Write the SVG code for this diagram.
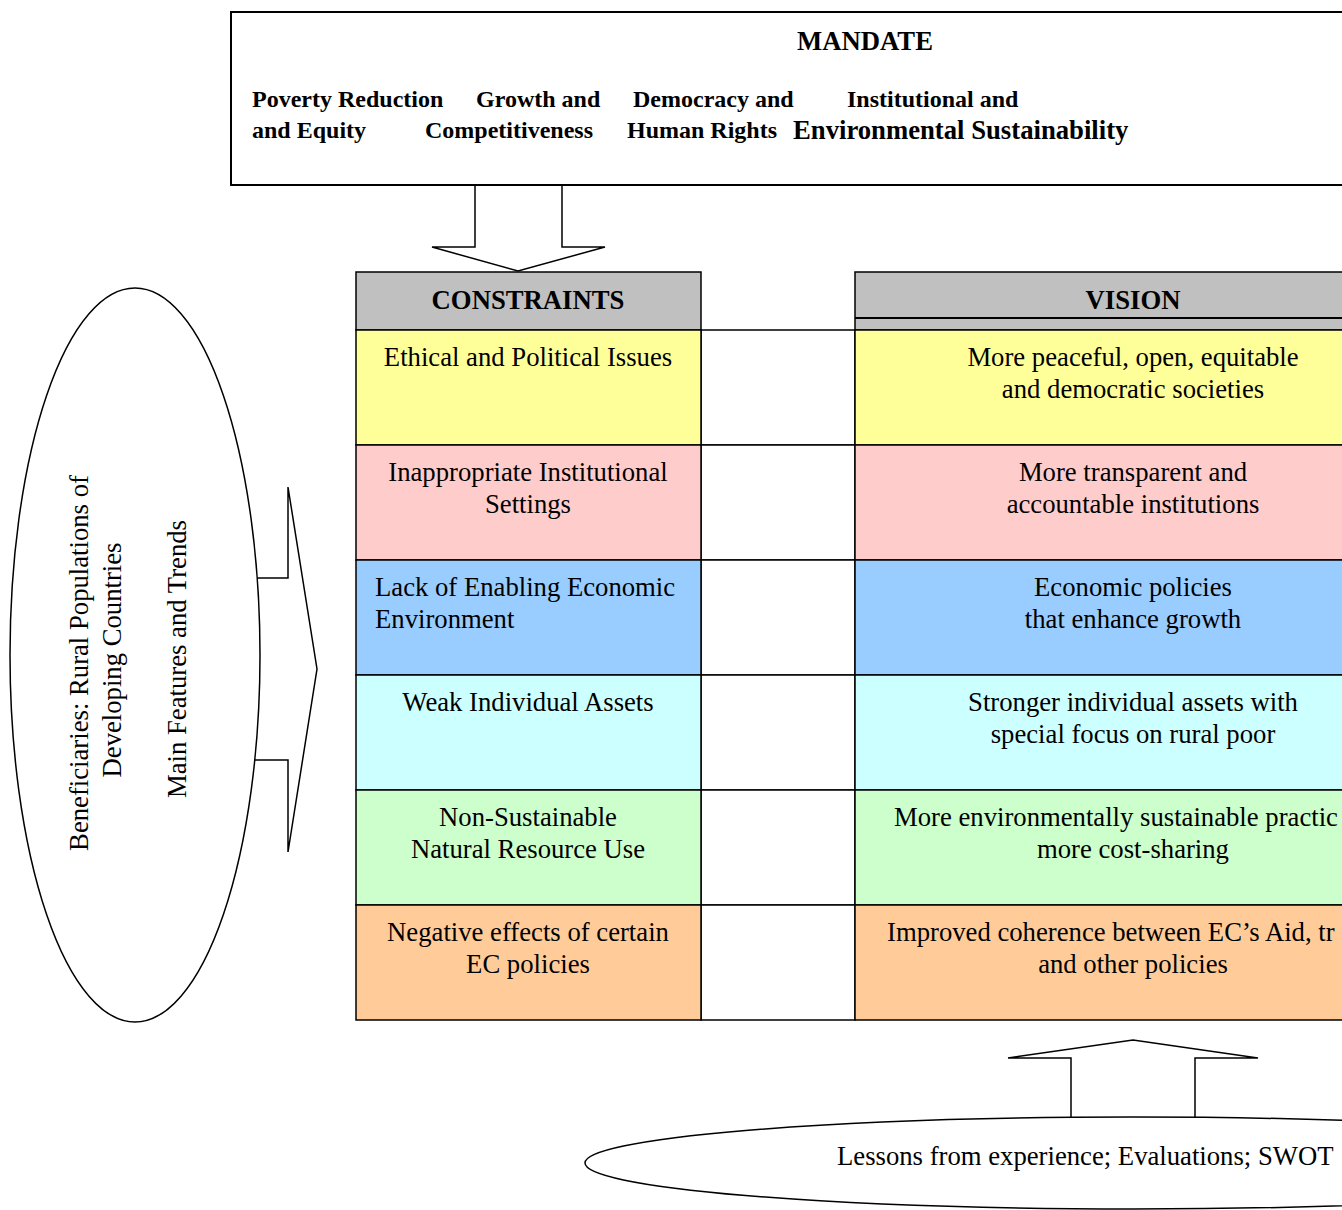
<svg xmlns="http://www.w3.org/2000/svg" width="1342" height="1210" viewBox="0 0 1342 1210">
<style>
.t{font-family:"Liberation Serif","Times New Roman",serif;font-size:26.7px;fill:#000}
.m{font-size:24px}
.b{font-weight:bold}
.c{text-anchor:middle}
.cell{stroke:#000;stroke-width:1.5}
</style>
<rect width="1342" height="1210" fill="#fff"/>

<g id="connectors">
  <polygon points="475,185 562,185 562,247 605,247 518,271 432,247 475,247" fill="#fff" stroke="#000" stroke-width="1.5"/>
  <polygon points="250,578 288,578 288,487 317,669 288,852 288,760 250,760" fill="#fff" stroke="#000" stroke-width="1.5"/>
  <polygon points="1071,1125 1071,1058 1008,1058 1133,1040 1258,1058 1195,1058 1195,1125" fill="#fff" stroke="#000" stroke-width="1.5"/>
</g>

<g id="mandate">
  <rect x="231" y="12" width="1200" height="173" fill="#fff" stroke="#000" stroke-width="2"/>
  <text class="t b c" x="865" y="50">MANDATE</text>
  <text class="t b m" x="252" y="107">Poverty Reduction</text>
  <text class="t b m" x="476" y="107">Growth and</text>
  <text class="t b m" x="633" y="107">Democracy and</text>
  <text class="t b m" x="847" y="107">Institutional and</text>
  <text class="t b m" x="252" y="138">and Equity</text>
  <text class="t b m" x="425" y="138">Competitiveness</text>
  <text class="t b m" x="627" y="138">Human Rights</text>
  <text class="t b" x="793" y="139">Environmental Sustainability</text>
</g>

<g id="constraints-header">
  <rect class="cell" x="356" y="272" width="345" height="58" fill="#C0C0C0"/>
  <text class="t b c" x="528" y="309">CONSTRAINTS</text>
</g>
<g id="vision-header">
  <rect class="cell" x="855" y="272" width="556" height="58" fill="#C0C0C0"/>
  <line x1="855" y1="318" x2="1411" y2="318" stroke="#000" stroke-width="2"/>
  <text class="t b c" x="1133" y="309">VISION</text>
</g>

<g id="middle-column">
  <rect class="cell" x="701" y="330" width="154" height="115" fill="#fff"/>
  <rect class="cell" x="701" y="445" width="154" height="115" fill="#fff"/>
  <rect class="cell" x="701" y="560" width="154" height="115" fill="#fff"/>
  <rect class="cell" x="701" y="675" width="154" height="115" fill="#fff"/>
  <rect class="cell" x="701" y="790" width="154" height="115" fill="#fff"/>
  <rect class="cell" x="701" y="905" width="154" height="115" fill="#fff"/>
</g>

<g id="c1">
  <rect class="cell" x="356" y="330" width="345" height="115" fill="#FFFF99"/>
  <text class="t c" x="528" y="366">Ethical and Political Issues</text>
</g>
<g id="v1">
  <rect class="cell" x="855" y="330" width="556" height="115" fill="#FFFF99"/>
  <text class="t c" x="1133" y="366">More peaceful, open, equitable</text>
  <text class="t c" x="1133" y="398">and democratic societies</text>
</g>
<g id="c2">
  <rect class="cell" x="356" y="445" width="345" height="115" fill="#FFCCCC"/>
  <text class="t c" x="528" y="481">Inappropriate Institutional</text>
  <text class="t c" x="528" y="513">Settings</text>
</g>
<g id="v2">
  <rect class="cell" x="855" y="445" width="556" height="115" fill="#FFCCCC"/>
  <text class="t c" x="1133" y="481">More transparent and</text>
  <text class="t c" x="1133" y="513">accountable institutions</text>
</g>
<g id="c3">
  <rect class="cell" x="356" y="560" width="345" height="115" fill="#99CCFF"/>
  <text class="t" x="375" y="596">Lack of Enabling Economic</text>
  <text class="t" x="375" y="628">Environment</text>
</g>
<g id="v3">
  <rect class="cell" x="855" y="560" width="556" height="115" fill="#99CCFF"/>
  <text class="t c" x="1133" y="596">Economic policies</text>
  <text class="t c" x="1133" y="628">that enhance growth</text>
</g>
<g id="c4">
  <rect class="cell" x="356" y="675" width="345" height="115" fill="#CCFFFF"/>
  <text class="t c" x="528" y="711">Weak Individual Assets</text>
</g>
<g id="v4">
  <rect class="cell" x="855" y="675" width="556" height="115" fill="#CCFFFF"/>
  <text class="t c" x="1133" y="711">Stronger individual assets with</text>
  <text class="t c" x="1133" y="743">special focus on rural poor</text>
</g>
<g id="c5">
  <rect class="cell" x="356" y="790" width="345" height="115" fill="#CCFFCC"/>
  <text class="t c" x="528" y="826">Non-Sustainable</text>
  <text class="t c" x="528" y="858">Natural Resource Use</text>
</g>
<g id="v5">
  <rect class="cell" x="855" y="790" width="556" height="115" fill="#CCFFCC"/>
  <text class="t" x="894" y="826">More environmentally sustainable practic</text>
  <text class="t c" x="1133" y="858">more cost-sharing</text>
</g>
<g id="c6">
  <rect class="cell" x="356" y="905" width="345" height="115" fill="#FFCC99"/>
  <text class="t c" x="528" y="941">Negative effects of certain</text>
  <text class="t c" x="528" y="973">EC policies</text>
</g>
<g id="v6">
  <rect class="cell" x="855" y="905" width="556" height="115" fill="#FFCC99"/>
  <text class="t" x="887" y="941">Improved coherence between EC’s Aid, tr</text>
  <text class="t c" x="1133" y="973">and other policies</text>
</g>

<g id="beneficiaries">
  <ellipse cx="135" cy="655" rx="125" ry="367" fill="#fff" stroke="#000" stroke-width="1.5"/>
  <text class="t c" transform="translate(88,663) rotate(-90)">Beneficiaries: Rural Populations of</text>
  <text class="t c" transform="translate(121,660) rotate(-90)">Developing Countries</text>
  <text class="t c" transform="translate(186,659) rotate(-90)">Main Features and Trends</text>
</g>

<g id="lessons">
  <ellipse cx="1133" cy="1163" rx="548" ry="46" fill="#fff" stroke="#000" stroke-width="1.5"/>
  <text class="t" x="837" y="1165">Lessons from experience; Evaluations; SWOT</text>
</g>
</svg>
